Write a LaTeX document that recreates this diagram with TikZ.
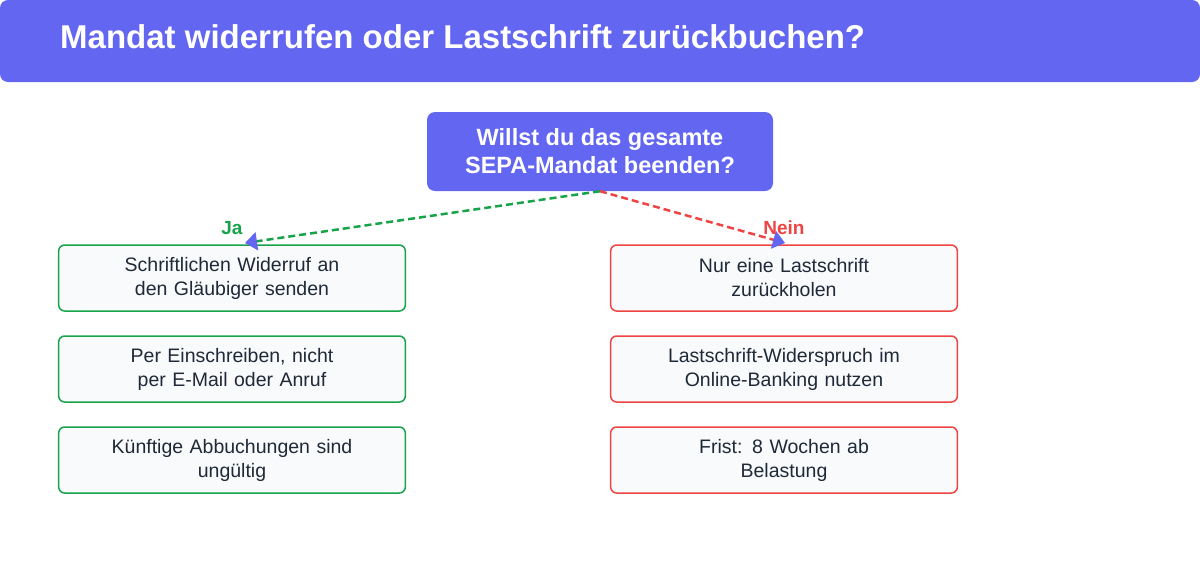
\documentclass[tikz,border=0pt]{standalone}
\usepackage{fontspec}
\setmainfont{Liberation Sans}
\usetikzlibrary{arrows.meta}
\definecolor{ind}{HTML}{6366F1}
\definecolor{gr}{HTML}{16A34A}
\definecolor{rd}{HTML}{EF4444}
\definecolor{bx}{HTML}{F8FAFC}
\definecolor{tx}{HTML}{1F2937}
\begin{document}
\begin{tikzpicture}[x=1pt,y=-1pt,
 box/.style={draw,line width=1.5pt,fill=bx,rounded corners=6pt,minimum width=346pt,minimum height=66pt,text width=340pt,align=center,font=\fontsize{19.5}{24}\selectfont,text=tx},
 gb/.style={box,draw=gr}, rb/.style={box,draw=rd},
 con/.style={line width=2.5pt,dash pattern=on 7pt off 4pt,-{Triangle[length=12pt,width=18pt,color=ind,fill=ind]}},
 lab/.style={font=\fontsize{19}{22}\selectfont\bfseries}]
\useasboundingbox (0,0) rectangle (1200,587);
\node[fill=ind,rounded corners=8pt,minimum width=1200pt,minimum height=82pt,inner sep=0pt] (banner) at (600,41) {};
\node[anchor=west,text=white,font=\fontsize{33}{38}\selectfont\bfseries,inner sep=0pt] (title) at (60,37) {Mandat widerrufen oder Lastschrift zurückbuchen?};
\node[fill=ind,rounded corners=8pt,minimum width=346pt,minimum height=79pt,text=white,align=center,font=\fontsize{23.5}{28}\selectfont\bfseries] (q) at (600,151.5) {Willst du das gesamte\\SEPA-Mandat beenden?};
\node[gb] (l1) at (232,278) {Schriftlichen Widerruf an\\den Gläubiger senden};
\node[gb] (l2) at (232,369) {Per Einschreiben, nicht\\per E-Mail oder Anruf};
\node[gb] (l3) at (232,460) {Künftige Abbuchungen sind\\ungültig};
\node[rb] (r1) at (784,278) {Nur eine Lastschrift\\zurückholen};
\node[rb] (r2) at (784,369) {Lastschrift-Widerspruch im\\Online-Banking nutzen};
\node[rb] (r3) at (784,460) {Frist: 8 Wochen ab\\Belastung};
\coordinate (ja) at (245,243);
\coordinate (ne) at (785,243);
\draw[con,draw=gr] (q.south) -- (ja);
\draw[con,draw=rd] (q.south) -- (ne);
\node[lab,text=gr] (jal) at (232,228) {Ja};
\node[lab,text=rd] (nel) at (784,228) {Nein};
\end{tikzpicture}
\end{document}
